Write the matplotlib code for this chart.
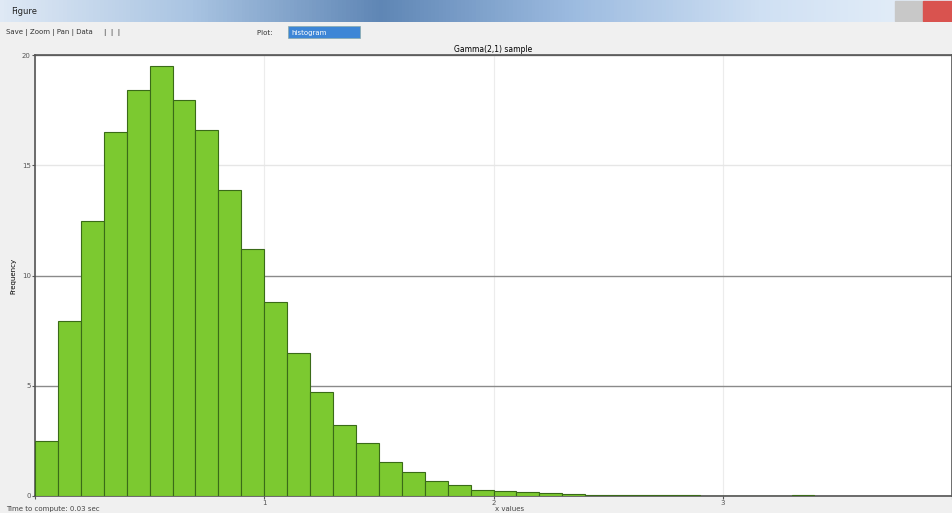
import numpy as np
import matplotlib
matplotlib.use("Agg")
import matplotlib.pyplot as plt
from matplotlib.patches import Rectangle

# histogram counts, one value per 0.1 wide bin starting at x = 0
counts = [2.5, 7.95, 12.45, 16.5, 18.4, 19.5, 17.95, 16.6, 13.9, 11.2,
          8.8, 6.5, 4.7, 3.2, 2.4, 1.55, 1.1, 0.68, 0.5, 0.27,
          0.23, 0.18, 0.14, 0.08, 0.06, 0.05, 0.05, 0.04, 0.05, 0.0,
          0.0, 0.0, 0.0, 0.05]
bin_width = 0.1
bin_lefts = [round(i * bin_width, 1) for i in range(len(counts))]

x_ticks = [0, 1, 2, 3, 4]
y_ticks = [0, 5, 10, 15, 20]

fig = plt.figure(figsize=(9.52, 5.13), dpi=100)
fig.patch.set_facecolor("#f0f0f0")

# window title bar (rough aero look)
tb = fig.add_axes([0, 1 - 22 / 513, 1, 22 / 513])
grad = np.linspace(0, 1, 256)[None, :]
tb.imshow(grad, aspect="auto", cmap=matplotlib.colors.LinearSegmentedColormap.from_list(
    "bar", ["#dfe9f5", "#a9c4e2", "#5f86b5", "#9cbbe0", "#cfe0f3", "#e9f1fa"]))
tb.set_axis_off()
tb.text(0.012, 0.5, "Figure", transform=tb.transAxes, fontsize=6, va="center", color="#222")
tb.add_patch(Rectangle((0.94, 0.05), 0.03, 0.9, transform=tb.transAxes, color="#c8c8c8"))
tb.add_patch(Rectangle((0.97, 0.05), 0.03, 0.9, transform=tb.transAxes, color="#d9534f"))

# toolbar row
fig.text(0.006, 1 - 33 / 513, "Save | Zoom | Pan | Data     |  |  | ", fontsize=5, va="center", color="#333")
fig.text(0.27, 1 - 33 / 513, "Plot: ", fontsize=5, va="center", color="#333")
fig.patches.append(Rectangle((0.303, 1 - 38 / 513), 0.075, 12 / 513, transform=fig.transFigure,
                             facecolor="#3d86d6", edgecolor="#8aa", lw=0.5, figure=fig))
fig.text(0.306, 1 - 33 / 513, "histogram", fontsize=5, va="center", color="white")

ax = fig.add_axes([35 / 952, 1 - 496 / 513, 1 - 35 / 952, (496 - 55) / 513])
ax.set_facecolor("white")
ax.bar(bin_lefts, counts, width=bin_width, align="edge",
       color="#7cc930", edgecolor="#3a6b18", linewidth=0.8, zorder=3)

ax.set_xlim(0, 4)
ax.set_ylim(0, 20)
ax.set_xticks(x_ticks)
ax.set_yticks(y_ticks)
ax.tick_params(labelsize=5, length=2, pad=1, colors="#555")
ax.set_xticklabels([str(t) if 0 < t < 4 else "" for t in x_ticks])

ax.yaxis.grid(True, color="#8a8a8a", lw=1.0, zorder=0)
ax.xaxis.grid(True, color="#ececec", lw=0.8, zorder=0)
# the upper grid line is much fainter in the reference
for val, gl in zip(y_ticks, ax.yaxis.get_gridlines()):
    if val == 15:
        gl.set_color("#e6e6e6")
ax.set_axisbelow(True)
for s in ax.spines.values():
    s.set_color("#555")
    s.set_linewidth(1.2)

ax.set_title("Gamma(2,1) sample", fontsize=5.5, pad=2)
ax.set_ylabel("Frequency", fontsize=5, labelpad=4)

# status bar text
fig.text(0.006, 0.002, "Time to compute: 0.03 sec", fontsize=5, color="#444", va="bottom")
fig.text(0.535, 0.002, "x values", fontsize=5, color="#444", va="bottom", ha="center")

fig.savefig("out.png", dpi=100, facecolor=fig.get_facecolor())
